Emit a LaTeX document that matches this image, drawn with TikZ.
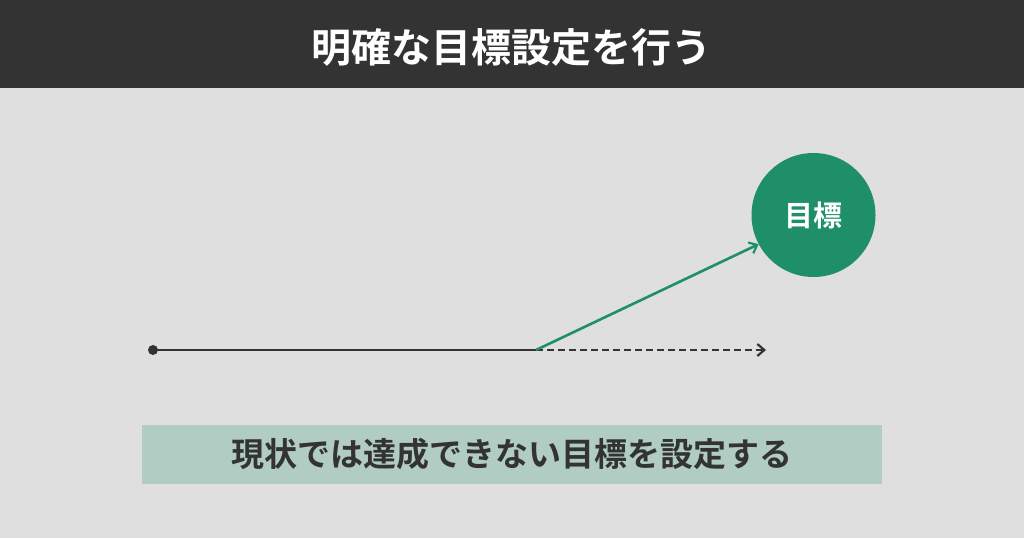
\documentclass[tikz,border=0pt]{standalone}
\usepackage{fontspec}
\setmainfont{Noto Sans CJK JP}[BoldFont={Noto Sans CJK JP Bold}]
\usetikzlibrary{arrows.meta}
\definecolor{hdr}{HTML}{333333}
\definecolor{bgc}{HTML}{DFDFDF}
\definecolor{grn}{HTML}{1E8F68}
\definecolor{boxc}{HTML}{B0CCC3}
\definecolor{ink}{HTML}{333333}
\tikzset{
  title/.style={text=white,font=\fontsize{40}{44}\selectfont\bfseries},
  goal/.style={circle,fill=grn,minimum size=124pt,inner sep=0pt,text=white,font=\fontsize{29}{32}\selectfont\bfseries},
  note/.style={fill=boxc,minimum width=740pt,minimum height=59pt,inner sep=0pt,text=ink,font=\fontsize{33}{36}\selectfont\bfseries},
  mainline/.style={draw=ink,line width=2.6pt},
  tip/.style={-{Straight Barb[length=7pt,width=12pt,line width=2.2pt]}}
}
\begin{document}
\begin{tikzpicture}[x=1pt,y=-1pt]
\fill[bgc] (0,0) rectangle (1024,538);
\useasboundingbox (0,0) rectangle (1024,538);
\fill[hdr] (0,0) rectangle (1024,88);
\node[title] (t) at (511,47) {明確な目標設定を行う};
\node[goal] (g) at (813.5,215) {目標};
\node[note] (n) at (512,454.5) {現状では達成できない目標を設定する};
\fill[ink] (153,350) circle (5pt) coordinate (s);
\coordinate (m) at (536,350);
\coordinate (e) at (766,350);
\draw[mainline] (s) -- (m);
\draw[mainline,dashed,dash pattern=on 7pt off 4pt,tip] (m) -- (e);
\draw[draw=grn,line width=2.6pt,tip] (m) -- (g.208);
\end{tikzpicture}
\end{document}
